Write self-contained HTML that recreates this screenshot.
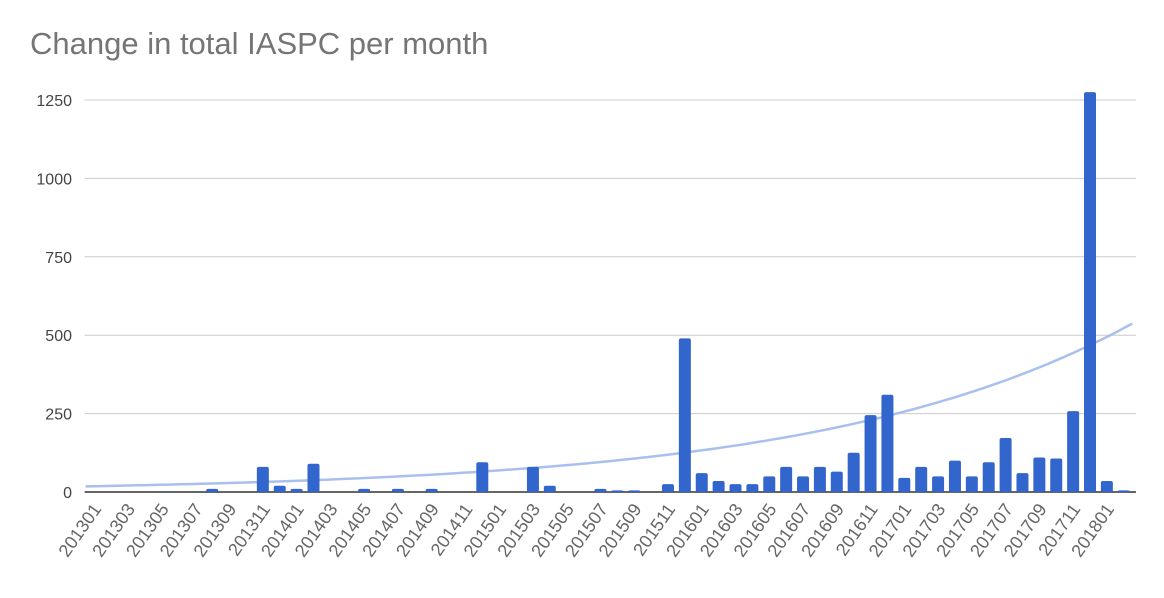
<!DOCTYPE html>
<html><head><meta charset="utf-8"><style>
body{margin:0;background:#fff;}
svg text{font-family:"Liberation Sans",Arial,sans-serif;}
</style></head><body>
<svg id="c" width="1164" height="593">
<text x="30" y="54" font-size="31" fill="#757575">Change in total IASPC per month</text>
<g id="grid"></g><g id="trend"></g><g id="bars"></g><g id="xl"></g>
</svg>
<script>
const months=["201301","201302","201303","201304","201305","201306","201307","201308","201309","201310","201311","201312","201401","201402","201403","201404","201405","201406","201407","201408","201409","201410","201411","201412","201501","201502","201503","201504","201505","201506","201507","201508","201509","201510","201511","201512","201601","201602","201603","201604","201605","201606","201607","201608","201609","201610","201611","201612","201701","201702","201703","201704","201705","201706","201707","201708","201709","201710","201711","201712","201801","201802"];
const values=[0,0,0,0,0,0,0,10,0,0,80,20,10,90,0,0,10,0,10,0,10,0,0,95,0,0,80,20,0,0,10,5,5,0,25,490,60,35,25,25,50,80,50,80,65,125,245,310,45,80,50,100,50,95,172,60,110,107,258,1275,35,5];
const yTicks=[0,250,500,750,1000,1250];
const trendStart=18, trendEnd=537;
const NS="http://www.w3.org/2000/svg";
const L=85.6,R=1132.2,Y0=492,Y1=100,VMAX=1250;
const bw=(R-L)/months.length;
const xc=i=>L+bw*(i+0.5);
const y=v=>Y0-(v/VMAX)*(Y0-Y1);
function mk(t,a,p){const e=document.createElementNS(NS,t);for(const k in a)e.setAttribute(k,a[k]);p.appendChild(e);return e;}
const grid=document.getElementById('grid');
yTicks.forEach(t=>{
 const l=mk('line',{x1:L-1,x2:1136,y1:y(t),y2:y(t),stroke:t===0?'#333':'#ccc','stroke-width':t===0?1.5:1},grid);
 
 
 const tx=mk('text',{x:72,y:y(t)+6,'text-anchor':'end','font-size':16,fill:'#444'},grid);
 tx.textContent=t;
 
 
});
const bars=document.getElementById('bars');
values.forEach((v,i)=>{
 if(v<=0)return;
 const h=Y0-y(v);
 const r=mk('rect',{x:xc(i)-6,y:y(v),width:12,height:h,rx:2,fill:'#3366cc'},bars);
 
 
});
const tg=document.getElementById('trend');
const b=Math.log(trendEnd/trendStart)/(months.length);
let d='';
for(let k=0;k<=100;k++){const t=-0.5+months.length*k/100;const v=trendStart*Math.exp(b*(t+0.5));d+=(k?'L':'M')+xc(t).toFixed(1)+','+y(v).toFixed(1);}
const p=mk('path',{d:d,fill:'none',stroke:'#a9c0ee','stroke-width':2.5},tg);


const xl=document.getElementById('xl');
months.forEach((m,i)=>{
 if(i%2)return;
 const x=xc(i)+8,yy=509;
 const t=mk('text',{x:x,y:yy,'text-anchor':'end','font-size':18,fill:'#666',transform:`rotate(-55 ${x} ${yy})`},xl);
 t.textContent=m;
 
 
});
</script>
</body></html>
